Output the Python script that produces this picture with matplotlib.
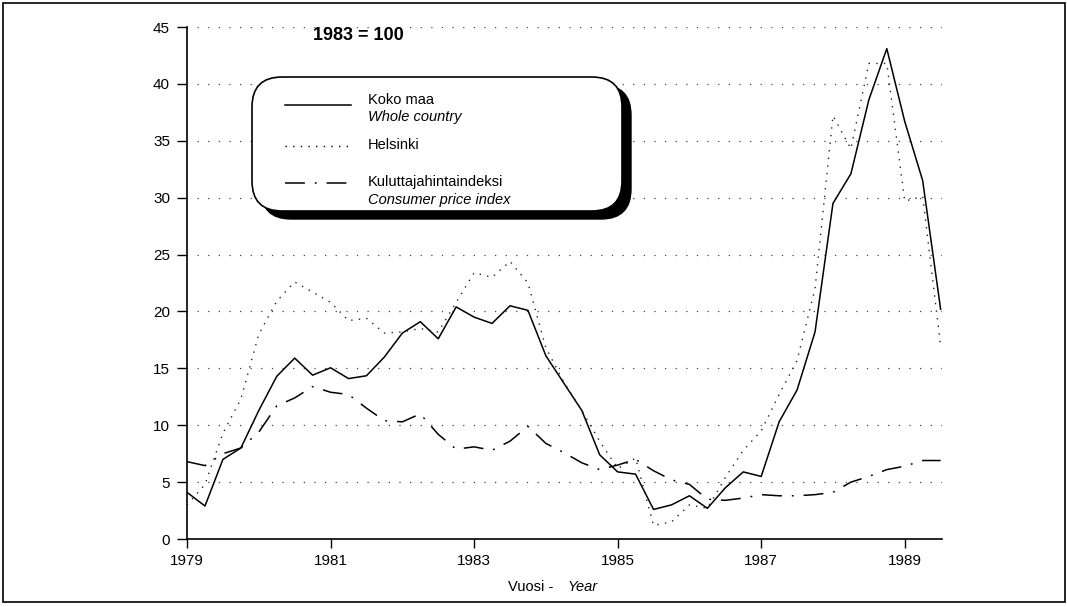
import numpy as np
import matplotlib
matplotlib.use("Agg")
import matplotlib.pyplot as plt
from matplotlib.patches import FancyBboxPatch, Rectangle
from matplotlib.lines import Line2D

# quarterly index values, 1979 Q1 .. 1989 Q3
koko_maa = [4.1, 2.9, 7.0, 8.0, 11.3, 14.3, 15.9, 14.4, 15.05, 14.1, 14.35, 16.0,
            18.1, 19.1, 17.6, 20.4, 19.5, 18.95, 20.5, 20.1, 16.1, 13.7, 11.3, 7.4,
            5.9, 5.7, 2.6, 3.0, 3.8, 2.7, 4.5, 5.9, 5.5, 10.3, 13.1, 18.2,
            29.5, 32.1, 38.6, 43.1, 36.7, 31.5, 20.2]
helsinki = [3.0, 4.8, 9.3, 12.3, 18.0, 20.9, 22.6, 21.7, 20.8, 19.2, 19.4, 18.1,
            18.2, 18.5, 18.2, 20.8, 23.4, 23.0, 24.4, 22.5, 16.8, 13.8, 11.3, 8.6,
            6.2, 7.1, 1.2, 1.5, 3.0, 2.7, 5.4, 7.8, 9.5, 12.7, 15.7, 22.0,
            37.2, 34.3, 41.8, 41.8, 29.7, 30.1, 17.0]
kuluttaja = [6.8, 6.45, 7.5, 8.0, 9.4, 11.7, 12.4, 13.4, 12.9, 12.7, 11.5, 10.4,
             10.3, 11.0, 9.2, 7.9, 8.1, 7.8, 8.6, 9.9, 8.4, 7.6, 6.7, 6.1,
             6.5, 7.0, 6.0, 5.2, 4.8, 3.5, 3.4, 3.6, 3.9, 3.8, 3.8, 3.9,
             4.1, 5.0, 5.5, 6.1, 6.4, 6.9, 6.9]
quarters = 1979 + np.arange(len(koko_maa)) / 4

year_ticks = [1979, 1981, 1983, 1985, 1987, 1989]
y_ticks = [0, 5, 10, 15, 20, 25, 30, 35, 40, 45]

plt.rcParams["font.family"] = ["Liberation Sans", "DejaVu Sans"]

fig = plt.figure(figsize=(10.67, 6.07), dpi=100)
ax = fig.add_axes([0.1753, 0.112, 0.7076, 0.8435])

# dotted gridlines
for v in y_ticks[1:]:
    ax.axhline(v, xmin=0.013, xmax=1.0, color="#444444", lw=0.9,
               linestyle=(0, (1, 7.5)), zorder=1)

ax.plot(quarters, koko_maa, color="black", lw=1.1, zorder=3)
ax.plot(quarters, helsinki, color="#222222", lw=1.0,
        linestyle=(0, (1, 4.5)), zorder=3)
ax.plot(quarters, kuluttaja, color="black", lw=1.1,
        linestyle=(0, (13, 6.5, 1.2, 6.5)), zorder=3)

ax.set_xlim(1979, 1989.52)
ax.set_ylim(0, 45)
ax.set_xticks(year_ticks)
ax.set_yticks(y_ticks)
ax.tick_params(axis="y", direction="out", length=7.2, width=1.0, pad=5,
               labelsize=11)
ax.tick_params(axis="x", direction="out", length=6.5, width=1.0, pad=4,
               labelsize=11)
for s in ["top", "right"]:
    ax.spines[s].set_visible(False)
for s in ["left", "bottom"]:
    ax.spines[s].set_linewidth(1.2)

# x label: Finnish + English italic
fig.text(0.519, 0.033, "Vuosi -", ha="right", va="center", fontsize=10.5)
fig.text(0.532, 0.033, "Year", ha="left", va="center", fontsize=10.5,
         style="italic")

# base year note
fig.text(0.336, 0.942, "1983 = 100", ha="center", va="center", fontsize=13,
         fontweight="bold")

# legend box with hard black shadow
tr = fig.dpi_scale_trans
shadow = FancyBboxPatch((2.52 + 0.09, 3.96 - 0.08), 3.70, 1.34,
                        boxstyle="round,pad=0,rounding_size=0.3",
                        transform=tr, facecolor="black", edgecolor="black",
                        lw=1.0, zorder=5)
box = FancyBboxPatch((2.52, 3.96), 3.70, 1.34,
                     boxstyle="round,pad=0,rounding_size=0.3",
                     transform=tr, facecolor="white", edgecolor="black",
                     lw=1.2, zorder=6)
fig.patches.extend([shadow, box])

samples = [
    (5.02, "-", 1.1),
    (4.61, (0, (1, 4.5)), 1.0),
    (4.24, (0, (13, 6.5, 1.2, 6.5)), 1.1),
]
for yy, ls, lw in samples:
    fig.lines.append(Line2D([2.85, 3.51], [yy, yy], transform=tr, color="black",
                            lw=lw, linestyle=ls, zorder=7))

fig.text(3.68, 5.07, "Koko maa", transform=tr, va="center", fontsize=10.5, zorder=7)
fig.text(3.68, 4.90, "Whole country", transform=tr, va="center", fontsize=10.5,
         style="italic", zorder=7)
fig.text(3.68, 4.62, "Helsinki", transform=tr, va="center", fontsize=10.5, zorder=7)
fig.text(3.68, 4.25, "Kuluttajahintaindeksi", transform=tr, va="center",
         fontsize=10.5, zorder=7)
fig.text(3.68, 4.07, "Consumer price index", transform=tr, va="center",
         fontsize=10.5, style="italic", zorder=7)

# outer frame
fig.patches.append(Rectangle((0.003, 0.008), 0.995, 0.987, transform=fig.transFigure,
                             fill=False, edgecolor="black", lw=1.2))

fig.savefig("out.png", dpi=100)
